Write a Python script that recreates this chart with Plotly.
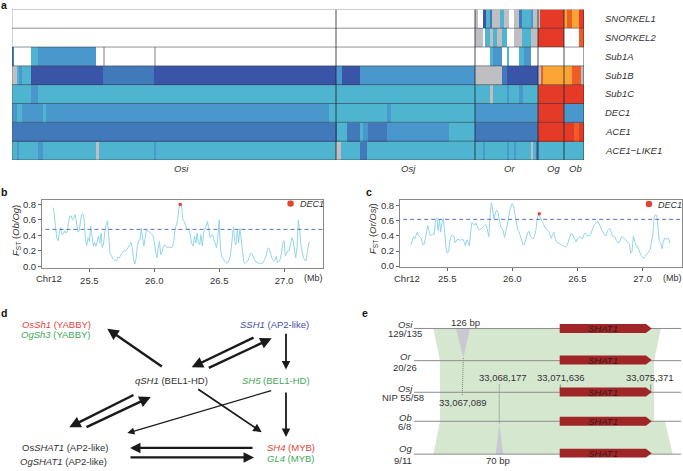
import numpy as np
import plotly.graph_objects as go

W, H = 683, 471
FONT = "Liberation Sans"
DARK = "#333333"

# ---------- panel a data ----------
genes = ["SNORKEL1", "SNORKEL2", "Sub1A", "Sub1B", "Sub1C", "DEC1", "ACE1", "ACE1\u2212LIKE1"]
groups = ["Osi", "Osj", "Or", "Og", "Ob"]
group_ends = [324, 463, 526, 552, 572]
# copy-number classes: 0 absent, 1 missing, 2..8 increasing levels
class_colors = ["#ffffff", "#bebec3", "#4fb4d0", "#4a97cd", "#4279bb", "#3a55a8", "#e53a28", "#ef5c28", "#faa533"]
N_COLS = 572
snorkel1 = [(0,463),(1,466),(0,471),(5,474),(2,478),(4,480),(1,488),(2,492),(1,497),(0,502),(1,507),(4,510),(2,519),(3,521),(1,526),(1,528),(6,552),(8,555),(7,560),(8,567),(6,572)]
snorkel2 = [(0,463),(1,471),(0,473),(2,478),(1,481),(2,485),(1,490),(2,495),(0,502),(1,510),(2,519),(1,526),(6,552),(0,567),(7,572)]
sub1a = [(4,2),(0,19),(2,26),(3,84),(0,91),(1,93),(0,142),(1,144),(0,478),(2,481),(3,490),(0,495),(2,497),(0,507),(2,512),(3,519),(0,572)]
sub1b = [(1,5),(2,7),(3,10),(2,19),(5,91),(4,142),(5,324),(3,330),(5,348),(3,463),(1,490),(4,495),(5,526),(1,529),(7,531),(8,560),(7,569),(1,572)]
sub1c = [(2,19),(3,26),(2,478),(1,481),(2,495),(3,497),(2,507),(3,511),(2,526),(6,572)]
dec1 = [(3,5),(2,10),(3,31),(2,34),(3,317),(2,375),(3,379),(2,463),(3,526),(6,552),(3,572)]
ace1 = [(4,325),(2,335),(4,348),(2,351),(3,356),(4,375),(3,437),(2,463),(4,526),(6,562),(7,567),(6,572)]
ace1_like1 = [(2,5),(3,7),(2,26),(3,31),(2,84),(1,87),(2,142),(3,144),(2,324),(1,329),(2,348),(4,355),(2,471),(3,473),(2,495),(3,497),(2,502),(3,504),(2,519),(1,521),(2,524),(4,526),(2,572)]
rows_a = [snorkel1, snorkel2, sub1a, sub1b, sub1c, dec1, ace1, ace1_like1]

# ---------- panels b, c data ----------
window_start_mb = 25.22
window_step_mb = 0.01
fst_ob_og = [.76,.67,.49,.36,.33,.45,.50,.41,.42,.46,.43,.45,.58,.65,.65,.60,.62,.67,.58,.45,.45,.58,.67,.68,.60,.33,.27,.37,.32,.52,.34,.26,.31,.26,.32,.39,.30,.43,.24,.30,.45,.55,.59,.32,.16,.14,.10,.09,.07,.07,.12,.11,.14,.16,.19,.20,.20,.22,.26,.28,.31,.24,.10,.03,.10,.27,.33,.34,.49,.34,.26,.37,.47,.46,.45,.43,.42,.40,.32,.19,.11,.23,.32,.15,.18,.26,.28,.26,.24,.25,.24,.24,.25,.33,.47,.54,.60,.75,.81,.80,.60,.58,.52,.49,.47,.49,.37,.29,.26,.39,.30,.43,.30,.28,.41,.26,.43,.49,.55,.58,.47,.37,.40,.41,.34,.27,.24,.37,.60,.22,.13,.10,.07,.05,.04,.05,.09,.19,.35,.51,.32,.28,.47,.30,.49,.32,.13,.05,.04,.05,.07,.11,.16,.17,.12,.10,.06,.05,.04,.03,.03,.04,.05,.09,.13,.21,.24,.20,.13,.09,.07,.08,.13,.05,.06,.09,.17,.30,.33,.13,.17,.20,.21,.30,.37,.33,.22,.11,.24,.60,.47,.27,.19,.11,.08,.07,.19,.30,.31]
fst_or_osj = [.28,.34,.39,.36,.40,.45,.40,.39,.37,.29,.28,.35,.48,.54,.47,.41,.41,.43,.42,.62,.64,.47,.62,.45,.58,.63,.45,.25,.17,.19,.33,.40,.41,.40,.31,.34,.36,.35,.34,.35,.36,.32,.27,.35,.31,.27,.45,.58,.56,.54,.57,.53,.49,.48,.49,.51,.53,.55,.54,.46,.39,.69,.84,.73,.62,.71,.74,.71,.62,.53,.50,.47,.38,.45,.51,.62,.74,.80,.83,.79,.70,.57,.49,.46,.42,.36,.29,.28,.33,.40,.45,.46,.39,.37,.36,.40,.47,.60,.69,.66,.61,.59,.56,.51,.50,.48,.46,.41,.37,.42,.45,.36,.32,.31,.30,.30,.28,.27,.26,.25,.27,.32,.38,.43,.43,.39,.35,.32,.36,.38,.39,.37,.36,.42,.44,.41,.40,.40,.41,.47,.51,.55,.58,.59,.59,.54,.50,.47,.44,.41,.40,.47,.49,.50,.45,.40,.39,.38,.34,.31,.31,.36,.39,.38,.37,.35,.33,.31,.29,.17,.20,.40,.31,.27,.27,.22,.18,.14,.12,.10,.13,.15,.17,.19,.22,.33,.42,.65,.68,.67,.50,.33,.31,.23,.32,.37,.36,.36,.37,.30]
threshold_b = 0.477
threshold_c = 0.62
dec1_pos_b = (26.2, 0.80)
dec1_pos_c = (26.207, 0.695)
legend_dot_b = (27.05, 0.81)
legend_dot_c = (27.05, 0.825)
mb_ticks = [25.5, 26.0, 26.5, 27.0]
fst_ticks = [0, 0.2, 0.4, 0.6, 0.8]


def px(x):
    return x / W


def py(y):
    return 1 - y / H


anns, shapes = [], []


def text(x, y, s, size=9.5, color=DARK, anchor="center", angle=0):
    anns.append(dict(x=px(x), y=py(y), xref="paper", yref="paper", text=s, showarrow=False,
                     xanchor=anchor, yanchor="middle", textangle=angle,
                     font=dict(family=FONT, size=size, color=color)))


def arrow(x0, y0, x1, y1, width=2.4, size=0.95):
    anns.append(dict(x=px(x1), y=py(y1), xref="paper", yref="paper", text="", showarrow=True,
                     axref="pixel", ayref="pixel", ax=x0 - x1, ay=y0 - y1,
                     arrowhead=2, arrowsize=size, arrowwidth=width, arrowcolor="#1a1a1a"))


def pline(x0, y0, x1, y1, color, width=1, dash="solid", layer="above"):
    shapes.append(dict(type="line", xref="paper", yref="paper", x0=px(x0), y0=py(y0), x1=px(x1), y1=py(y1),
                       line=dict(color=color, width=width, dash=dash), layer=layer))


def poly(points, color, layer="below"):
    d = "M" + " L".join(f"{px(x):.5f},{py(y):.5f}" for x, y in points) + " Z"
    shapes.append(dict(type="path", xref="paper", yref="paper", path=d, fillcolor=color,
                       line=dict(width=0), layer=layer))


fig = go.Figure()

# ---------- panel a ----------
z = []
for runs in rows_a:
    row = []
    start = 0
    for cls, end in runs:
        row += [cls] * (end - start)
        start = end
    z.append(row)
n_cls = len(class_colors)
scale = []
for i, c in enumerate(class_colors):
    scale += [[i / n_cls, c], [(i + 1) / n_cls, c]]
fig.add_trace(go.Heatmap(z=z, x0=0.5, dx=1, y0=0, dy=1, zmin=-0.5, zmax=n_cls - 0.5, colorscale=scale,
                         showscale=False, hoverinfo="skip", xaxis="x", yaxis="y"))
for i in range(len(genes) + 1):
    shapes.append(dict(type="line", xref="x", yref="y", x0=0, x1=N_COLS, y0=i - 0.5, y1=i - 0.5,
                       line=dict(color="rgba(50,55,60,0.55)", width=1)))
shapes.append(dict(type="line", xref="x", yref="y", x0=0, x1=0, y0=-0.5, y1=7.5,
                   line=dict(color="rgba(50,55,60,0.45)", width=1)))
for e in group_ends:
    shapes.append(dict(type="line", xref="x", yref="y", x0=e, x1=e, y0=-0.5, y1=7.5,
                       line=dict(color="rgba(30,35,40,0.8)", width=1)))
for i, g in enumerate(genes):
    text(603, 18 + i * 19, f"<i>{g}</i>", 9.5, "#333333", "left")
for name, xc in zip(groups, [181, 408, 509, 553.5, 575]):
    text(xc, 169.5, f"<i>{name}</i>")

# ---------- panels b, c ----------
xs = [window_start_mb + i * window_step_mb for i in range(len(fst_ob_og))]
xc_ = [window_start_mb + i * window_step_mb for i in range(len(fst_or_osj))]
LINE = "#93d5ea"
RED = "#e2452f"
for series, xv, thr, pos, dot, xa, ya in [
    (fst_ob_og, xs, threshold_b, dec1_pos_b, legend_dot_b, "x2", "y2"),
    (fst_or_osj, xc_, threshold_c, dec1_pos_c, legend_dot_c, "x3", "y3"),
]:
    fig.add_trace(go.Scatter(x=xv, y=series, mode="lines", line=dict(color=LINE, width=1), xaxis=xa, yaxis=ya,
                             hoverinfo="skip", showlegend=False))
    fig.add_trace(go.Scatter(x=[25.0, 28.0], y=[thr, thr], mode="lines",
                             line=dict(color="#5a72bb", width=1, dash="4px,3px"),
                             xaxis=xa, yaxis=ya, hoverinfo="skip", showlegend=False))
    fig.add_trace(go.Scatter(x=[pos[0]], y=[pos[1]], mode="markers", marker=dict(color=RED, size=3.5),
                             xaxis=xa, yaxis=ya, hoverinfo="skip", showlegend=False))
    fig.add_trace(go.Scatter(x=[dot[0]], y=[dot[1]], mode="markers", marker=dict(color=RED, size=6.5),
                             xaxis=xa, yaxis=ya, hoverinfo="skip", showlegend=False))

text(298, 206, "<i>DEC1</i>", 9, DARK, "left")
text(656, 206.5, "<i>DEC1</i>", 9, DARK, "left")
text(16, 233, "<i>F</i><sub>ST</sub> (<i>Ob/Og</i>)", 9.5, DARK, angle=-90)
text(373, 231, "<i>F</i><sub>ST</sub> (<i>Or/Osj</i>)", 9.5, DARK, angle=-90)
text(49, 281, "Chr12")
text(313, 280.5, "(Mb)", 9)
text(407, 281, "Chr12")
text(672, 280.5, "(Mb)", 9)

# ---------- panel labels ----------
for lab, x, y in [("a", 4, 4), ("b", 4, 193), ("c", 368.5, 193), ("d", 4, 316), ("e", 364.5, 316)]:
    text(x, y, f"<b>{lab}</b>", 10.5, "#111111")

# ---------- panel d ----------
RED_T, GREEN_T, BLUE_T = "#e0443a", "#3fa95a", "#3f4fa3"
text(56, 327.5, "<i>OsSh1</i> (YABBY)", 9.5, RED_T)
text(56, 338, "<i>OgSh3</i> (YABBY)", 9.5, GREEN_T)
text(274, 328, "<i>SSH1</i> (AP2-like)", 9.5, BLUE_T)
text(171.5, 384, "<i>qSH1</i> (BEL1-HD)", 9.5)
text(276, 384, "<i>SH5</i> (BEL1-HD)", 9.5, GREEN_T)
text(65, 452, "Os<i>SHAT1</i> (AP2-like)", 9.5)
text(63.5, 466, "<i>OgSHAT1</i> (AP2-like)", 9.5)
text(290.5, 452, "<i>SH4</i> (MYB)", 9.5, RED_T)
text(290.5, 463.5, "<i>GL4</i> (MYB)", 9.5, GREEN_T)
arrow(163.3, 370.7, 107.3, 332)
arrow(255, 340.7, 191.7, 371)
arrow(207.3, 372, 271.7, 341.7)
arrow(286, 336, 286, 373.3, 1.8)
arrow(286, 395.7, 286, 441.7, 1.8)
arrow(196.7, 392.7, 261.7, 436.7, 1.8)
arrow(272.7, 394.7, 127.3, 437.7, 1.3, 1.1)
arrow(135, 398.7, 69.3, 431.7)
arrow(85, 432, 150.7, 401)
arrow(254, 452.7, 130, 452.7, 2.2)
arrow(129, 462.3, 254, 462.3, 2.2)

# ---------- panel e ----------
GREEN_BG = "#d6e7d0"
GREY_T = "#c9c9d2"
LINE_E = "#8c8c8c"
poly([(433.3, 331.7), (661, 331.7), (654, 364.3), (654, 425.7), (440, 425.7), (440, 364.3)], GREEN_BG)
poly([(440, 425.7), (665, 425.7), (672.7, 459), (433.3, 459)], GREEN_BG)
poly([(456, 331.7), (470, 331.7), (463.3, 361.7)], GREY_T, "above")
poly([(495.7, 459), (503.3, 459), (499.3, 428.3)], GREY_T, "above")
pline(463.3, 361.7, 462.3, 399.3, "#666666", 0.8, "1px,1px")
pline(499.3, 388.3, 499.3, 428.3, "#666666", 0.8, "1px,1px")
pline(560.3, 388.3, 560.3, 396, "#666666", 0.7)
pline(650.7, 388.3, 650.7, 396, "#666666", 0.7)
track_y = [331.7, 364.3, 396.3, 425.7, 459]
gene_y = [331.7, 363.7, 396, 425.7, 458]
for ty, gy in zip(track_y, gene_y):
    pline(414, ty, 681, ty, LINE_E, 1)
    poly([(559.7, gy - 4.5), (646, gy - 4.5), (651.7, gy), (646, gy + 4.5), (559.7, gy + 4.5)], "#9f2526", "above")
    text(603, gy + 0.3, "<i>SHAT1</i>", 9.5, "#3a1a1a")
for s, y1, y2, s2, xc2 in [("Osi", 327.5, 337, "129/135", 404.5), ("Or", 360.5, 371.5, "20/26", 404.5),
                           ("Osj", 392, 402, "NIP 55/58", 403.5), ("Ob", 421.5, 431, "6/8", 404.5),
                           ("Og", 453, 465.7, "9/11", 403)]:
    text(405, y1, f"<i>{s}</i>", 9.5)
    text(xc2, y2, s2, 9.5)
text(465.5, 325.7, "126 bp")
text(503.3, 381.7, "33,068,177")
text(561.3, 381.7, "33,071,636")
text(650, 381.7, "33,075,371")
text(462.7, 406.3, "33,067,089")
text(497.7, 465.7, "70 bp")


def ax_style(**kw):
    d = dict(showgrid=False, zeroline=False, showline=True, mirror=True, linecolor="#8a8a8a", linewidth=1,
             ticks="outside", ticklen=3, tickcolor="#666666", tickwidth=1,
             tickfont=dict(family=FONT, size=9.5, color=DARK))
    d.update(kw)
    return d


fig.update_layout(
    width=W, height=H, margin=dict(l=0, r=0, t=0, b=0), paper_bgcolor="white", plot_bgcolor="rgba(0,0,0,0)",
    showlegend=False, annotations=anns, shapes=shapes,
    font=dict(family=FONT, size=9.5, color=DARK),
    xaxis=dict(domain=[px(12), px(584)], range=[0, N_COLS], visible=False, anchor="y"),
    yaxis=dict(domain=[py(161), py(8.5)], range=[7.5, -0.5], visible=False, anchor="x"),
    xaxis2=ax_style(domain=[px(42), px(323)], range=[25.135, 27.30], tickvals=mb_ticks, tickformat=".1f", anchor="y2"),
    yaxis2=ax_style(domain=[py(270.7), py(201.7)], range=[-0.025, 0.855], tickvals=fst_ticks, tickformat=".1f", anchor="x2"),
    xaxis3=ax_style(domain=[px(400), px(681.5)], range=[25.137, 27.30], tickvals=mb_ticks, tickformat=".1f", anchor="y3"),
    yaxis3=ax_style(domain=[py(269.3), py(201.7)], range=[-0.01, 0.875], tickvals=fst_ticks, tickformat=".1f", anchor="x3"),
)

fig.write_html("out.html", config=dict(displayModeBar=False),
               post_script="document.body.style.margin='0';document.documentElement.style.overflow='hidden';")
